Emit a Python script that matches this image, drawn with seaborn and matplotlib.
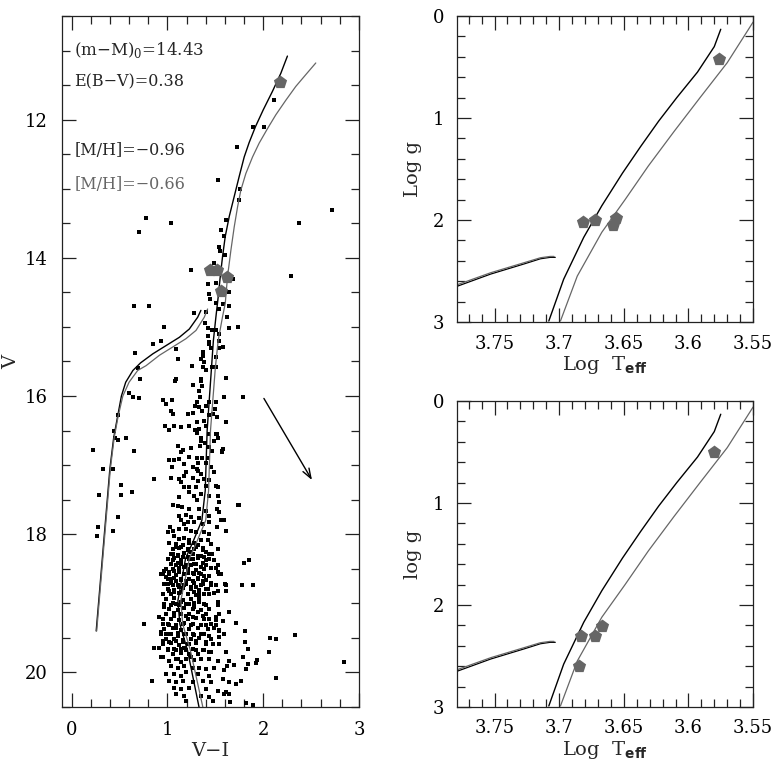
import matplotlib
matplotlib.use("Agg")
import matplotlib.pyplot as plt
import matplotlib.ticker as mticker
import seaborn as sns

# ---- field stars in the CMD: V-I colour and V magnitude ----
cmd_vi = [
    # upper RGB and sparse bright stars
    2.115, 1.896, 2.01, 1.722, 1.524, 1.76, 1.75, 2.715, 2.375, 1.611, 1.559, 1.587, 1.535, 1.552,
    1.49, 2.29, 1.247, 1.42, 1.43, 1.44, 1.507, 1.64, 1.646, 0.649, 0.8125, 1.28, 1.40, 1.62,
    1.74, 1.39, 1.42, 1.47, 1.51, 1.54, 1.54, 1.58, 0.96, 0.93, 0.85, 0.66, 1.09, 1.37, 1.43,
    1.35, 1.26, 1.47, 1.40, 0.69, 0.71, 1.09, 1.35, 1.61, 0.78, 0.70, 1.04,
    1.604, 1.68, 1.507, 1.576, 1.535, 1.108, 1.368, 1.385, 1.42, 1.4375, 1.455, 1.542, 1.639,
    1.507, 1.507, 1.368,
    # blue side and red outskirts
    0.222, 0.29, 0.333, 0.28, 0.264, 0.43, 0.448, 0.44, 0.48, 0.48, 0.43, 0.517, 0.517, 0.57,
    0.63, 0.656, 0.60, 0.64, 0.70, 0.48, 0.753, 0.858, 0.858, 0.837, 0.934,
    1.785, 1.587, 1.61, 1.57, 1.524, 1.743, 1.61, 1.795, 1.854, 1.774, 1.889, 1.61, 1.646,
    1.72, 1.806, 2.073, 2.13, 2.333, 2.844, 1.81, 1.837, 1.94, 1.924, 2.056, 1.70, 1.62, 1.82,
    2.13, 1.61, 1.646, 1.65, 1.82, 1.89, 1.514, 1.514, 1.56, 1.53, 1.597, 1.47, 1.507, 1.54,
    # lower RGB, V = 15.7 - 17.3
    1.083, 1.264, 1.35, 1.36, 1.333, 1.34, 0.951, 1.049, 0.986, 1.306, 1.29, 1.326, 1.36,
    1.403, 1.4375, 1.507, 1.50, 1.472, 1.43, 1.264, 1.219, 1.038, 1.0625, 1.378, 1.306,
    1.326, 1.29, 1.403, 1.514, 1.142, 1.073, 0.979, 1.021, 1.229, 1.306, 1.35, 1.4375,
    1.507, 1.524, 1.49, 1.35, 1.34, 1.396, 1.4375, 1.465, 1.576, 1.569, 1.108, 1.167, 1.247,
    1.142, 1.021, 1.066, 1.125, 1.177, 1.229, 1.306, 1.36, 1.42, 1.316, 1.403, 1.264, 1.306,
    1.316, 1.455, 1.49, 1.35, 1.264, 1.194, 1.177, 1.049, 1.038, 1.125, 1.142, 1.177, 0.865,
    1.316, 1.385, 1.4375, 1.507, 1.30, 1.229, 1.403,
    # V = 17.4 - 18.9
    1.125, 1.229, 1.281, 1.306, 1.35, 1.4375, 1.524, 1.542, 1.0625, 1.108, 1.153, 1.229,
    1.333, 1.403, 1.514, 1.542, 1.733, 1.125, 1.194, 1.247, 1.326, 1.4375, 1.559, 1.594,
    1.142, 1.177, 1.212, 1.281, 1.368, 1.4375, 1.031, 1.056, 1.003, 1.125, 1.194, 1.247,
    1.30, 1.385, 1.4375, 1.021, 1.073, 1.125, 1.177, 1.229, 1.281, 1.35, 1.42, 1.455,
    1.09, 1.142, 1.212, 1.247, 1.30, 1.368, 1.403, 1.524, 1.056, 1.108, 1.16, 1.212, 1.264,
    1.316, 1.385, 1.4375, 1.49, 1.056, 1.09, 1.142, 1.177, 1.247, 1.30, 1.35, 1.403, 1.507,
    0.969, 1.021, 1.073, 1.125, 1.212, 1.281, 1.333, 1.385, 1.4375, 0.934, 0.986, 1.038,
    1.09, 1.142, 1.194, 1.264, 1.316, 1.368, 1.455, 1.507, 1.003, 1.056, 1.125, 1.177, 1.247,
    1.30, 1.35, 1.403, 1.021, 1.073, 1.142, 1.212, 1.281, 1.333, 1.4375, 1.524, 1.61,
    # V = 19.0 - 20.5
    0.969, 1.038, 1.09, 1.142, 1.229, 1.281, 1.333, 1.403, 1.524, 0.917, 0.986, 1.073, 1.142,
    1.194, 1.264, 1.368, 1.4375, 1.507, 1.576, 0.951, 1.021, 1.09, 1.16, 1.247, 1.316, 1.403,
    1.49, 1.542, 0.934, 0.986, 1.038, 1.108, 1.177, 1.264, 1.35, 1.4375, 1.594, 0.951, 1.021,
    1.09, 1.16, 1.229, 1.30, 1.403, 1.472, 1.542, 0.917, 1.003, 1.073, 1.142, 1.194, 1.30,
    1.385, 1.455, 1.611, 0.951, 1.021, 1.09, 1.142, 1.247, 1.35, 1.4375, 1.524, 1.646, 1.785,
    1.038, 1.108, 1.177, 1.264, 1.333, 1.403, 1.49, 1.594, 1.837, 0.986, 1.073, 1.142, 1.194,
    1.316, 1.4375, 1.576, 1.021, 1.09, 1.16, 1.264, 1.368, 1.455, 1.646, 1.767, 1.073, 1.142,
    1.229, 1.403, 1.524, 1.715, 1.09, 1.177, 1.35, 1.4375, 1.594, 1.194, 1.472,
    # dense core, V = 18.1 - 19.8
    1.090, 1.160, 1.229, 1.316, 1.056, 1.125, 1.212, 1.281, 1.368,
    1.038, 1.108, 1.177, 1.264, 1.351, 1.438, 1.003, 1.073, 1.142, 1.229, 1.316, 1.403,
    1.038, 1.108, 1.194, 1.281, 1.368, 1.524, 0.986, 1.056, 1.125, 1.212, 1.299, 1.385, 1.455,
    0.951, 1.021, 1.090, 1.177, 1.264, 1.351, 1.542, 1.003, 1.073, 1.142, 1.229, 1.316, 1.403,
    0.969, 1.038, 1.108, 1.194, 1.281, 1.368, 1.455, 1.003, 1.073, 1.160, 1.247, 1.333, 1.420,
    0.951, 1.038, 1.125, 1.212, 1.299, 1.385, 1.490, 0.986, 1.073, 1.160, 1.247, 1.333,
    0.969, 1.056, 1.125, 1.194, 1.281, 1.385, 1.524, 1.021, 1.108, 1.177, 1.264, 1.351, 1.438,
    0.986, 1.073, 1.142, 1.229, 1.316, 1.403, 1.542, 0.951, 1.038, 1.125, 1.212, 1.299, 1.385, 1.507,
    1.003, 1.090, 1.177, 1.264, 1.351, 1.455, 0.969, 1.056, 1.142, 1.229, 1.316, 1.420, 1.542,
    0.934, 1.021, 1.108, 1.194, 1.281, 1.385, 0.986, 1.073, 1.160, 1.247, 1.333, 1.455,
    0.951, 1.038, 1.125, 1.212, 1.299, 1.403, 1.003, 1.090, 1.177, 1.264, 1.368,
    1.056, 1.142, 1.229, 1.316, 1.438, 1.108, 1.194, 1.281,
]
cmd_v = [
    11.71, 12.11, 12.11, 12.40, 12.88, 13.01, 13.16, 13.31, 13.50, 13.45, 13.60, 13.68, 13.85, 13.90,
    14.08, 14.26, 14.18, 14.38, 14.52, 14.59, 14.65, 14.50, 14.70, 14.70, 14.69, 14.80, 14.79, 14.85,
    15.00, 14.95, 15.01, 15.05, 15.05, 15.10, 15.20, 15.29, 15.00, 15.20, 15.25, 15.38, 15.32, 15.36, 15.25,
    15.46, 15.56, 15.58, 15.63, 15.60, 15.75, 15.75, 15.75, 15.74, 13.43, 13.62, 13.50,
    13.96, 14.31, 14.37, 14.67, 14.74, 15.46, 15.42, 15.51, 15.13, 15.22, 15.30, 15.30, 15.01,
    15.44, 15.58, 15.58,
    16.78, 17.43, 17.06, 17.90, 18.03, 17.06, 16.60, 16.50, 16.64, 17.75, 17.96, 17.29, 17.43, 16.60,
    17.39, 16.80, 15.95, 16.02, 16.03, 16.28, 19.30, 17.20, 19.65, 20.13, 19.77,
    16.02, 16.02, 16.38, 16.79, 17.32, 17.58, 17.96, 18.42, 18.37, 18.74, 18.74, 18.82, 19.12,
    19.28, 19.40, 19.50, 19.51, 19.46, 19.85, 19.56, 19.66, 19.82, 19.87, 19.70, 19.89, 19.90, 19.95,
    20.08, 20.29, 20.31, 20.43, 20.44, 20.47, 16.55, 17.90, 18.57, 18.54, 18.72, 18.29, 19.32, 19.49,
    15.78, 15.835, 15.78, 15.85, 15.92, 16.02, 16.06, 16.06, 16.11, 16.09, 16.14, 16.16, 16.22,
    16.14, 16.09, 16.08, 16.19, 16.26, 16.28, 16.24, 16.26, 16.21, 16.26, 16.36, 16.38,
    16.48, 16.49, 16.43, 16.31, 16.45, 16.43, 16.43, 16.49, 16.43, 16.54, 16.60, 16.55,
    16.55, 16.60, 16.65, 16.65, 16.72, 16.68, 16.74, 16.79, 16.77, 16.81, 16.72, 16.78, 16.75,
    16.81, 16.93, 16.93, 16.91, 16.99, 16.88, 16.90, 16.90, 16.89, 16.97, 16.97, 17.03, 17.06,
    17.08, 17.03, 17.10, 17.13, 17.18, 17.10, 17.15, 17.02, 17.19, 17.20, 17.25, 17.31, 17.20,
    17.23, 17.20, 17.22, 17.30, 17.32, 17.32, 17.30,
    17.465, 17.39, 17.44, 17.51, 17.42, 17.44, 17.44, 17.54, 17.57, 17.59, 17.61, 17.63,
    17.63, 17.66, 17.63, 17.68, 17.57, 17.73, 17.72, 17.75, 17.76, 17.73, 17.79, 17.79,
    17.80, 17.85, 17.82, 17.82, 17.85, 17.82, 17.90, 17.95, 17.97, 17.92, 17.92, 17.95,
    17.97, 17.97, 18.00, 18.12, 18.02, 18.07, 18.05, 18.09, 18.12, 18.09, 18.09, 18.14,
    18.19, 18.19, 18.21, 18.26, 18.19, 18.23, 18.26, 18.21, 18.29, 18.31, 18.33, 18.33, 18.36,
    18.31, 18.33, 18.36, 18.38, 18.38, 18.45, 18.43, 18.48, 18.45, 18.43, 18.48, 18.44, 18.49,
    18.53, 18.55, 18.53, 18.55, 18.56, 18.57, 18.56, 18.60, 18.60, 18.57, 18.62, 18.65,
    18.67, 18.65, 18.67, 18.67, 18.65, 18.67, 18.70, 18.74, 18.72, 18.74, 18.77, 18.74, 18.77,
    18.77, 18.74, 18.79, 18.82, 18.84, 18.84, 18.86, 18.84, 18.86, 18.86, 18.82, 18.74,
    19.06, 19.03, 19.01, 18.985, 19.01, 19.06, 18.985, 19.03, 18.985, 19.20, 19.15, 19.18, 19.15,
    19.18, 19.20, 19.18, 19.23, 19.20, 19.25, 19.30, 19.32, 19.35, 19.30, 19.32, 19.35, 19.32,
    19.35, 19.40, 19.42, 19.44, 19.44, 19.47, 19.44, 19.44, 19.44, 19.47, 19.44, 19.54, 19.56,
    19.54, 19.56, 19.59, 19.54, 19.56, 19.59, 19.59, 19.64, 19.68, 19.66, 19.66, 19.68, 19.68,
    19.68, 19.71, 19.71, 19.78, 19.83, 19.81, 19.85, 19.78, 19.81, 19.81, 19.83, 19.83, 19.78,
    19.90, 19.93, 19.90, 19.93, 19.93, 19.95, 19.93, 19.97, 19.88, 20.02, 20.02, 20.05, 20.00,
    20.02, 20.05, 20.10, 20.12, 20.14, 20.12, 20.14, 20.12, 20.14, 20.14, 20.12, 20.22, 20.24,
    20.22, 20.24, 20.27, 20.17, 20.31, 20.34, 20.34, 20.36, 20.31, 20.41, 20.41,
    # dense core
    18.14, 18.15, 18.13, 18.16, 18.22, 18.20, 18.23, 18.21, 18.20,
    18.28, 18.30, 18.27, 18.29, 18.31, 18.28, 18.36, 18.35, 18.37, 18.36, 18.34, 18.38,
    18.43, 18.42, 18.44, 18.43, 18.41, 18.44, 18.50, 18.51, 18.49, 18.50, 18.52, 18.50, 18.49,
    18.58, 18.57, 18.59, 18.58, 18.56, 18.58, 18.57, 18.65, 18.64, 18.66, 18.65, 18.63, 18.66,
    18.72, 18.71, 18.73, 18.72, 18.70, 18.72, 18.73, 18.79, 18.80, 18.78, 18.79, 18.81, 18.79,
    18.86, 18.87, 18.85, 18.86, 18.88, 18.86, 18.85, 18.94, 18.93, 18.95, 18.94, 18.92,
    19.01, 19.00, 19.02, 19.01, 18.99, 19.01, 19.02, 19.08, 19.09, 19.07, 19.08, 19.10, 19.08,
    19.15, 19.14, 19.16, 19.15, 19.13, 19.16, 19.15, 19.23, 19.22, 19.24, 19.23, 19.21, 19.23, 19.24,
    19.30, 19.31, 19.29, 19.30, 19.32, 19.30, 19.37, 19.36, 19.38, 19.37, 19.35, 19.37, 19.38,
    19.44, 19.45, 19.43, 19.44, 19.46, 19.44, 19.52, 19.51, 19.53, 19.52, 19.50, 19.52,
    19.59, 19.58, 19.60, 19.59, 19.57, 19.59, 19.66, 19.67, 19.65, 19.66, 19.68,
    19.73, 19.72, 19.74, 19.73, 19.71, 19.81, 19.80, 19.82,
]

# spectroscopic targets (grey pentagons)
star_vi = [2.18, 1.44, 1.52, 1.62, 1.56]
star_v = [11.45, 14.18, 14.18, 14.28, 14.48]
star1_teff = [3.6816, 3.672, 3.658, 3.656, 3.5766]
star1_logg = [2.02, 2.00, 2.05, 1.98, 0.42]
star2_teff = [3.683, 3.685, 3.672, 3.667, 3.580]
star2_logg = [2.30, 2.60, 2.30, 2.21, 0.50]

# isochrones in the CMD: [M/H]=-0.96 (black) and -0.66 (grey)
iso1_vi = [2.253, 2.184, 2.097, 2.00, 1.92, 1.854, 1.802, 1.75, 1.698, 1.646, 1.604, 1.576,
           1.552, 1.531, 1.507, 1.48, 1.46, 1.415, 1.395, 1.36, 1.27, 1.19, 1.11, 1.13, 1.21, 1.33]
iso1_v = [11.08, 11.33, 11.59, 11.86, 12.1, 12.33, 12.54, 12.82, 13.11, 13.40, 13.69, 13.98,
          14.27, 14.56, 14.85, 15.2, 15.6, 16.5, 17.37, 17.8, 18.1, 18.35, 18.96, 19.3, 19.68, 20.5]
iso2_vi = [2.549, 2.444, 2.34, 2.236, 2.132, 2.045, 1.958, 1.889, 1.819, 1.767, 1.733, 1.698,
           1.663, 1.628, 1.604, 1.576, 1.53, 1.50, 1.45, 1.43, 1.40, 1.31, 1.23, 1.14, 1.16, 1.24, 1.37]
iso2_v = [11.18, 11.35, 11.52, 11.72, 11.93, 12.13, 12.34, 12.54, 12.78, 13.02, 13.26, 13.55,
          13.89, 14.27, 14.66, 14.85, 15.2, 15.6, 16.5, 17.37, 17.8, 18.1, 18.35, 18.96, 19.3, 19.68, 20.5]
hb1_vi = [1.35, 1.316, 1.229, 1.125, 0.986, 0.847, 0.72, 0.64, 0.565, 0.52, 0.48, 0.44, 0.40, 0.257]
hb1_v = [14.76, 14.86, 15.03, 15.15, 15.27, 15.39, 15.52, 15.63, 15.8, 16.0, 16.3, 16.6, 17.05, 19.40]
hb2_vi = [1.42, 1.385, 1.299, 1.194, 1.056, 0.917, 0.778, 0.69, 0.60, 0.535, 0.485, 0.445, 0.405, 0.262]
hb2_v = [14.74, 14.86, 15.05, 15.17, 15.29, 15.41, 15.56, 15.63, 15.8, 16.0, 16.3, 16.6, 17.05, 19.40]

# isochrones in the log g - log Teff plane
rgb1_teff = [3.708, 3.6965, 3.681, 3.667, 3.651, 3.637, 3.623, 3.609, 3.593, 3.580, 3.575]
rgb1_logg = [2.99, 2.58, 2.17, 1.86, 1.54, 1.28, 1.03, 0.80, 0.55, 0.30, 0.13]
rgb2_teff = [3.699, 3.686, 3.667, 3.649, 3.631, 3.611, 3.591, 3.570, 3.550]
rgb2_logg = [2.99, 2.55, 2.12, 1.80, 1.47, 1.13, 0.80, 0.458, 0.06]
hbg1_teff = [3.779, 3.753, 3.727, 3.7145, 3.707, 3.703]
hbg1_logg = [2.65, 2.53, 2.43, 2.38, 2.366, 2.366]
hbg2_teff = [3.779, 3.753, 3.727, 3.7145, 3.707, 3.704]
hbg2_logg = [2.635, 2.517, 2.418, 2.37, 2.357, 2.357]

GREY = "#666666"

sns.set_style("ticks")
plt.rcParams["font.family"] = ["DejaVu Serif"]
plt.rcParams["mathtext.fontset"] = "custom"
plt.rcParams["mathtext.rm"] = "DejaVu Serif"
plt.rcParams["mathtext.bf"] = "DejaVu Sans:bold"


def style_axes(ax, xmaj, xmin, ymaj, ymin):
    ax.xaxis.set_major_locator(mticker.MultipleLocator(xmaj))
    ax.xaxis.set_minor_locator(mticker.MultipleLocator(xmin))
    ax.yaxis.set_major_locator(mticker.MultipleLocator(ymaj))
    ax.yaxis.set_minor_locator(mticker.MultipleLocator(ymin))
    ax.xaxis.set_major_formatter(mticker.FormatStrFormatter("%g"))
    ax.yaxis.set_major_formatter(mticker.FormatStrFormatter("%g"))
    ax.tick_params(which="both", direction="in", top=True, right=True, width=0.9, colors="#222222")
    ax.tick_params(which="major", length=10, labelsize=13, labelcolor="black", pad=9)
    ax.tick_params(which="minor", length=5.5)
    for s in ax.spines.values():
        s.set_linewidth(0.9)
        s.set_color("#222222")


def draw_curve(ax, x, y, color, lw):
    sns.lineplot(x=x, y=y, ax=ax, sort=False, estimator=None, color=color, lw=lw)


fig = plt.figure(figsize=(7.77, 7.62), dpi=100)

# ---- left: colour-magnitude diagram ----
ax = fig.add_axes([0.0798, 0.0722, 0.3822, 0.9068])
sns.scatterplot(x=cmd_vi, y=cmd_v, ax=ax, s=5.5, color="black", linewidth=0, marker="s")
draw_curve(ax, iso1_vi, iso1_v, "black", 1.0)
draw_curve(ax, iso2_vi, iso2_v, GREY, 0.9)
draw_curve(ax, hb1_vi, hb1_v, "black", 1.0)
draw_curve(ax, hb2_vi, hb2_v, GREY, 0.9)
sns.scatterplot(x=star_vi, y=star_v, ax=ax, s=100, marker="p", color=GREY, linewidth=0, zorder=5)
ax.annotate("", xy=(2.524, 17.25), xytext=(1.993, 16.0),
            arrowprops=dict(arrowstyle="->,head_length=0.7,head_width=0.25", color="black", lw=1.0))
ax.text(0.03, 10.99, "(m\u2212M)$_\\mathrm{0}$=14.43", fontsize=12, va="center")
ax.text(0.03, 11.46, "E(B\u2212V)=0.38", fontsize=11.5, va="center")
ax.text(0.03, 12.45, "[M/H]=\u22120.96", fontsize=11.5, va="center")
ax.text(0.03, 12.94, "[M/H]=\u22120.66", fontsize=11.5, va="center", color=GREY)
ax.set_xlim(-0.1, 3.0)
ax.set_ylim(20.5, 10.5)
style_axes(ax, 1, 0.2, 2, 0.5)
ax.tick_params(which="major", pad=10)
ax.set_xlabel("V\u2212I", fontsize=14, labelpad=2)
ax.set_ylabel("V", fontsize=14)
ax.yaxis.set_label_coords(-0.14, 0.5)

# ---- right: log g vs log Teff, two panels ----
for pos, sx, sy, ylab in [([0.5882, 0.5774, 0.381, 0.4016], star1_teff, star1_logg, "Log g"),
                          ([0.5882, 0.0722, 0.381, 0.4016], star2_teff, star2_logg, "log g")]:
    axr = fig.add_axes(pos)
    draw_curve(axr, hbg1_teff, hbg1_logg, "black", 0.9)
    draw_curve(axr, hbg2_teff, hbg2_logg, GREY, 0.9)
    draw_curve(axr, rgb1_teff, rgb1_logg, "black", 1.0)
    draw_curve(axr, rgb2_teff, rgb2_logg, GREY, 0.9)
    sns.scatterplot(x=sx, y=sy, ax=axr, s=100, marker="p", color=GREY, linewidth=0, zorder=5)
    axr.set_xlim(3.779, 3.55)
    axr.set_ylim(3, 0)
    style_axes(axr, 0.05, 0.01, 1, 0.2)
    axr.set_xlabel(r"Log  T$_{\mathbf{eff}}$", fontsize=14, labelpad=1)
    axr.set_ylabel(ylab, fontsize=14, labelpad=8)

fig.savefig("out.png", dpi=100)
